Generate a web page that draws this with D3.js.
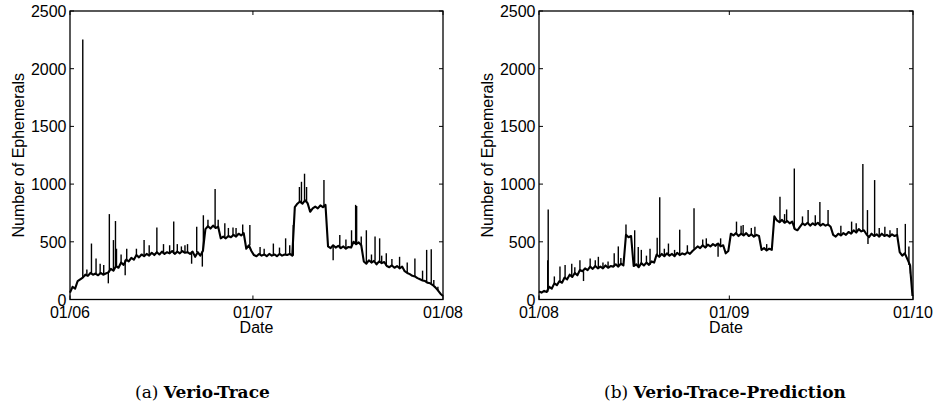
<!DOCTYPE html>
<html>
<head>
<meta charset="utf-8">
<script src="https://cdn.jsdelivr.net/npm/d3@7"></script>
<style>
  body { margin: 0; background: #fff; }
  text { font-family: "Liberation Sans", Arial, Helvetica, sans-serif; }
</style>
</head>
<body>
<svg id="chart" width="938" height="406"></svg>
<script>
// base samples are every STEP days; spikes are drawn as vertical strokes off the base
var STEP = 5;
var yTicks = [0, 500, 1000, 1500, 2000, 2500];

var leftTickDays = [0, 358, 730];
var leftTickLabels = ["01/06", "01/07", "01/08"];
var rightTickDays = [0, 372, 731];
var rightTickLabels = ["01/08", "01/09", "01/10"];

var leftBase = [60,110,95,160,175,190,215,205,230,215,225,210,230,215,225,235,265,250,290,275,
  320,300,345,330,360,345,385,365,390,375,395,380,405,385,410,390,415,395,410,400,
  420,395,415,400,420,405,410,395,415,370,410,380,420,610,635,615,640,620,630,530,
  545,530,550,540,560,545,570,555,575,440,470,420,385,375,395,380,390,375,395,380,
  390,375,395,380,390,385,395,380,800,830,850,830,860,835,760,790,805,790,815,800,
  820,460,445,470,450,465,445,460,440,455,450,500,480,495,470,330,310,340,320,335,
  305,330,315,325,290,280,295,275,290,270,285,245,230,220,205,200,185,175,165,160,
  145,140,125,105,80,50,30];
var leftSpikeDays = [25,42,51,59,75,77,85,89,91,108,111,145,170,183,203,218,225,238,248,259,
  261,284,303,319,338,352,372,398,422,437,449,453,459,463,497,515,528,551,559,561,
  580,597,606,619,645,675,698,707,720,
  33,66,100,130,155,195,210,230,270,290,310,325,380,410,430,540,570,590,610,630,660,690,712];
var leftSpikeVals = [2254,485,355,310,140,740,515,680,440,210,440,515,625,480,675,460,470,310,630,285,
  730,957,660,625,650,645,455,485,530,645,975,1020,1090,975,1035,340,560,600,820,810,
  600,545,530,400,370,355,430,435,110,
  260,300,390,440,470,470,480,480,690,690,620,620,440,450,470,520,545,390,380,350,320,250,170];

var rightBase = [70,60,75,65,110,95,140,125,160,145,190,175,215,195,230,210,255,245,270,255,
  285,265,290,270,285,270,295,275,290,285,305,285,310,295,560,540,550,290,305,280,
  315,295,320,300,330,320,390,370,395,375,400,380,395,375,405,385,400,390,410,395,
  420,440,460,445,470,450,475,460,480,465,485,460,470,400,420,570,555,575,550,570,
  555,575,550,565,545,560,550,430,445,425,440,430,720,685,670,690,665,680,660,675,
  610,600,630,660,645,665,640,660,645,665,640,655,640,650,630,560,545,570,555,575,
  560,585,570,600,580,610,590,600,565,540,570,550,565,545,570,550,560,545,565,550,
  560,410,380,400,350,300,30];
var rightSpikeDays = [17,18,41,51,64,80,87,100,116,135,147,155,170,187,194,200,217,231,236,253,
  275,303,327,347,350,386,399,422,471,484,499,526,549,565,611,633,642,643,656,676,
  686,716,723,726,
  30,70,110,125,160,210,245,265,290,320,355,395,415,445,480,515,540,590,620,665,700];
var rightSpikeVals = [340,780,285,300,310,340,160,355,370,330,400,460,650,600,455,430,440,535,885,485,
  605,790,530,485,370,675,645,630,890,780,1135,775,845,775,675,1175,775,480,1035,630,
  600,655,460,225,
  200,280,340,320,360,380,440,430,470,520,530,640,620,480,740,720,730,640,660,620,620];

var svg = d3.select("#chart");
var plotTop = 11, plotBottom = 299.5;

function drawPanel(x0, x1, base, spikeDays, spikeVals, tickDays, tickLabels, tag, title) {
  var maxDay = tickDays[tickDays.length - 1];
  var x = d3.scaleLinear().domain([0, maxDay]).range([x0, x1]);
  var y = d3.scaleLinear().domain([0, 2500]).range([plotBottom, plotTop]);

  var g = svg.append("g");

  var line = d3.line()
    .x(function (d, i) { return x(i * STEP); })
    .y(function (d) { return y(d); });

  g.append("path")
    .datum(base)
    .attr("fill", "none")
    .attr("stroke", "#000")
    .attr("stroke-width", 2.1)
    .attr("stroke-linejoin", "round")
    .attr("d", line);

  // spikes: vertical strokes from the nearest base sample
  var spikes = spikeDays.map(function (d, i) {
    var b = base[Math.min(base.length - 1, Math.round(d / STEP))];
    return { day: d, from: b, to: spikeVals[i] };
  });
  g.selectAll(".spike").data(spikes).join("line")
    .attr("x1", function (d) { return x(d.day); })
    .attr("x2", function (d) { return x(d.day); })
    .attr("y1", function (d) { return y(d.from); })
    .attr("y2", function (d) { return y(d.to); })
    .attr("stroke", "#000")
    .attr("stroke-width", 1.4);

  // box
  g.append("rect")
    .attr("x", x0).attr("y", plotTop)
    .attr("width", x1 - x0).attr("height", plotBottom - plotTop)
    .attr("fill", "none").attr("stroke", "#000").attr("stroke-width", 1.3);

  // inward ticks, all four sides
  var tl = 4;
  g.selectAll(".yt").data(yTicks).join("path")
    .attr("stroke", "#000").attr("stroke-width", 1)
    .attr("d", function (d) {
      return "M" + x0 + "," + y(d) + "h" + tl + "M" + x1 + "," + y(d) + "h" + (-tl);
    });
  g.selectAll(".xt").data(tickDays).join("path")
    .attr("stroke", "#000").attr("stroke-width", 1)
    .attr("d", function (d) {
      return "M" + x(d) + "," + plotBottom + "v" + (-tl) + "M" + x(d) + "," + plotTop + "v" + tl;
    });

  g.selectAll(".yl").data(yTicks).join("text")
    .attr("x", x0 - 3.5).attr("y", function (d) { return y(d) + 6; })
    .attr("text-anchor", "end").attr("font-size", 16)
    .text(function (d) { return d; });

  g.selectAll(".xl").data(tickDays).join("text")
    .attr("x", function (d) { return x(d); }).attr("y", 318)
    .attr("text-anchor", "middle").attr("font-size", 16)
    .text(function (d, i) { return tickLabels[i]; });

  g.append("text")
    .attr("x", (x0 + x1) / 2).attr("y", 333)
    .attr("text-anchor", "middle").attr("font-size", 16)
    .text("Date");

  g.append("text")
    .attr("transform", "translate(" + (x0 - 46) + "," + ((plotTop + plotBottom) / 2) + ") rotate(-90)")
    .attr("text-anchor", "middle").attr("font-size", 16)
    .text("Number of Ephemerals");

  var cap = svg.append("text")
    .attr("x", x0 + 65).attr("y", 398)
    .style("font-family", "'DejaVu Serif', 'Liberation Serif', serif")
    .attr("font-size", 17);
  cap.append("tspan").text(tag + " ");
  cap.append("tspan").attr("font-weight", "bold").text(title);
}

drawPanel(70, 443, leftBase, leftSpikeDays, leftSpikeVals, leftTickDays, leftTickLabels, "(a)", "Verio-Trace");
drawPanel(539, 913, rightBase, rightSpikeDays, rightSpikeVals, rightTickDays, rightTickLabels, "(b)", "Verio-Trace-Prediction");
</script>
</body>
</html>
